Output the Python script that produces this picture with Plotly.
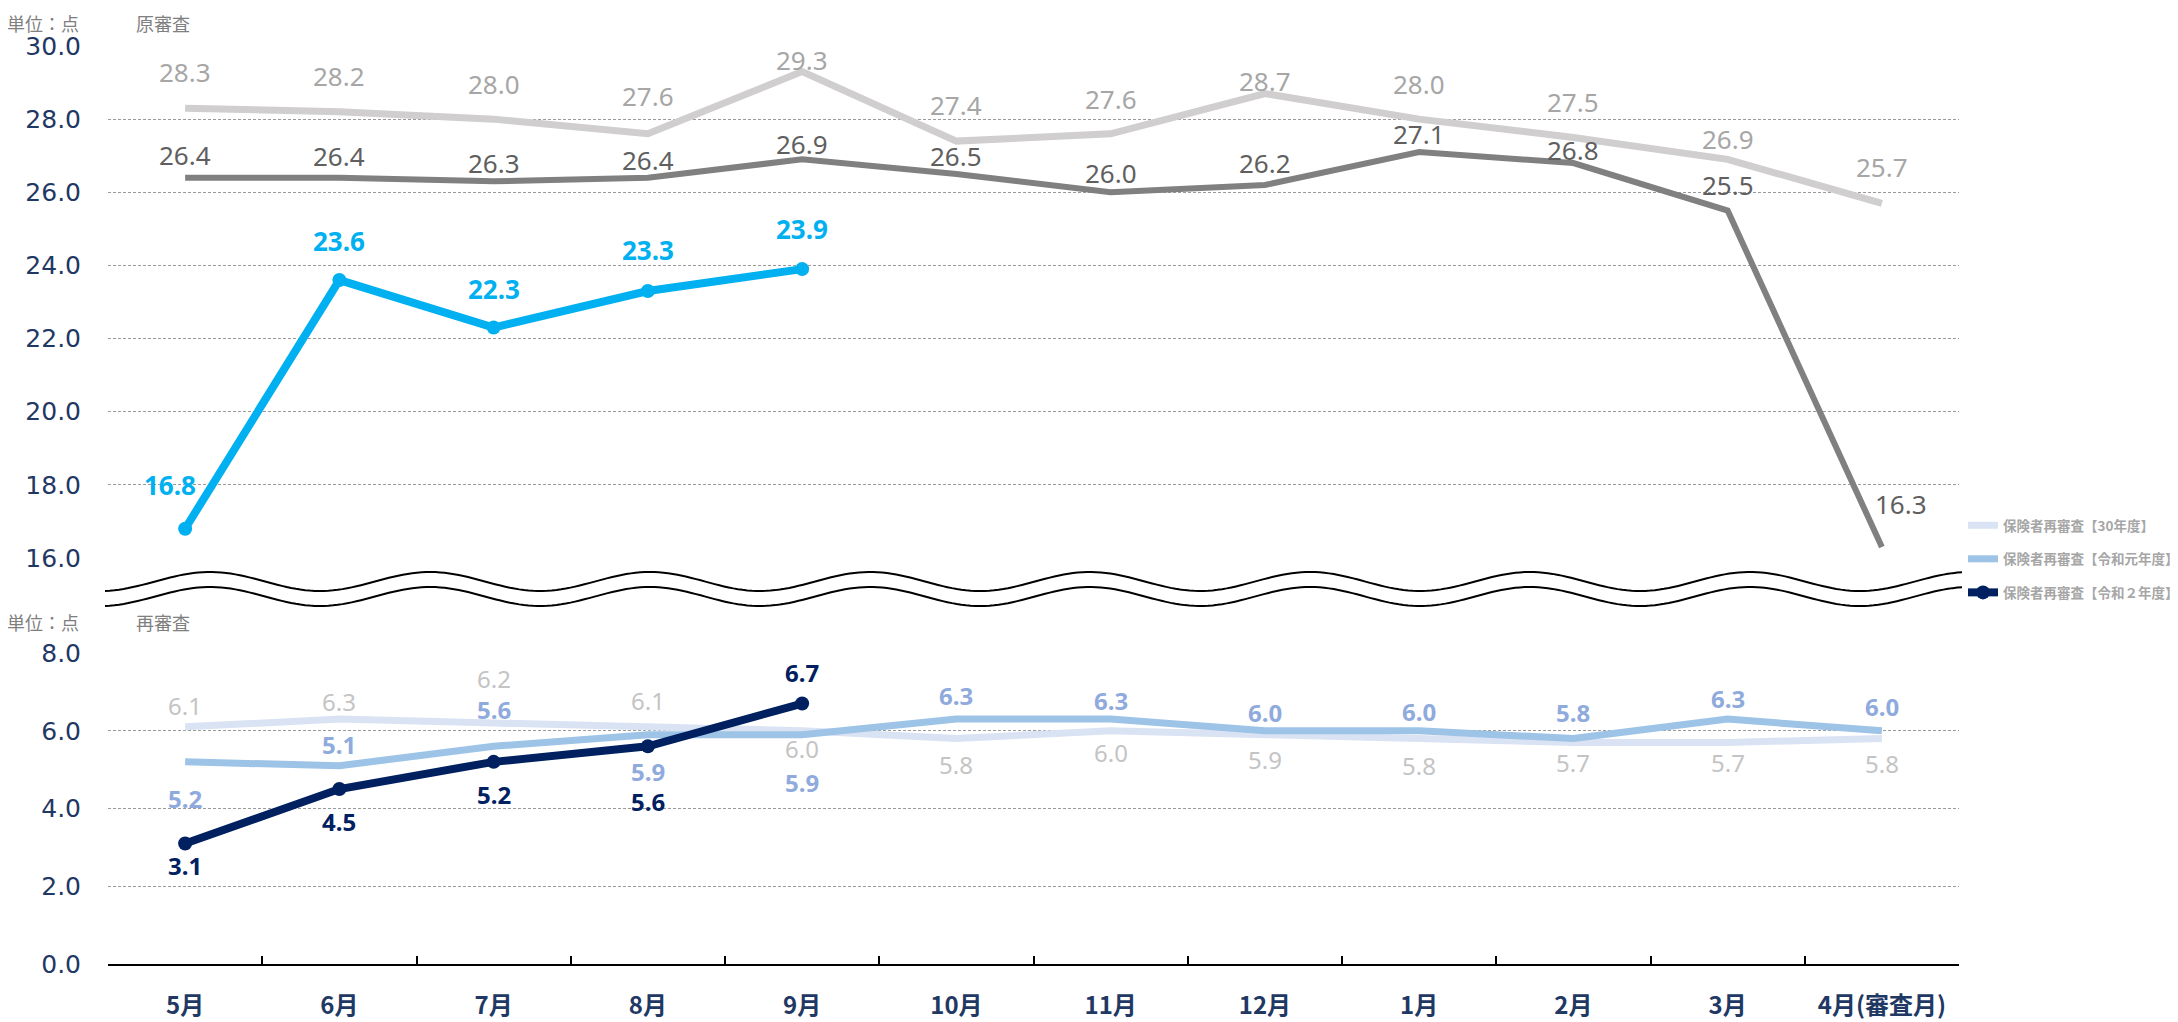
import numpy as np
import plotly.graph_objects as go

# categories (審査月)
months = ["5月", "6月", "7月", "8月", "9月", "10月", "11月", "12月", "1月", "2月", "3月", "4月(審査月)"]

# 原審査 (top panel)
orig_h30 = [28.3, 28.2, 28.0, 27.6, 29.3, 27.4, 27.6, 28.7, 28.0, 27.5, 26.9, 25.7]
orig_r1 = [26.4, 26.4, 26.3, 26.4, 26.9, 26.5, 26.0, 26.2, 27.1, 26.8, 25.5, 16.3]
orig_r2 = [16.8, 23.6, 22.3, 23.3, 23.9]

# 再審査 (bottom panel)
re_h30 = [6.1, 6.3, 6.2, 6.1, 6.0, 5.8, 6.0, 5.9, 5.8, 5.7, 5.7, 5.8]
re_r1 = [5.2, 5.1, 5.6, 5.9, 5.9, 6.3, 6.3, 6.0, 6.0, 5.8, 6.3, 6.0]
re_r2 = [3.1, 4.5, 5.2, 5.6, 6.7]

legend_names = ["保険者再審査【30年度】", "保険者再審査【令和元年度】", "保険者再審査【令和２年度】"]

# label offsets in px (up = positive), kept apart from the data
shift_orig_h30 = [36, 36, 35, 38, 12, 36, 35, 13, 35, 35, 20, 36]
shift_orig_r1 = [23, 22, 18, 18, 15, 18, 19, 22, 18, 13, 26, 43]
shift_orig_r2 = [44, 39, 39, 41, 40]
shift_re_h30 = [21, 18, 44, 26, -18, -26, -22, -25, -27, -20, -20, -25]
shift_re_r1 = [-37, 21, 37, -37, -48, 24, 19, 18, 19, 26, 21, 24]
shift_re_r2 = [-22, -32, -33, -55, 31]

NAVY = "#1f3864"
OFF = 8  # page body margin
FIG_W, FIG_H = 2170, 1014
ML, MR, MT, MB = 100, 219, 38, 58
PW, PH = FIG_W - ML - MR, FIG_H - MT - MB
PLOT_L = OFF + ML
PLOT_B = OFF + FIG_H - MB


def paper_x(page_x):
    return (page_x - PLOT_L) / PW


def paper_y(page_y):
    return (PLOT_B - page_y) / PH


fig = go.Figure()

# top panel traces (xaxis2 / yaxis2)
fig.add_trace(go.Scatter(x=months, y=orig_h30, mode="lines", line=dict(color="#d0cece", width=7),
                         xaxis="x2", yaxis="y2", showlegend=False))
fig.add_trace(go.Scatter(x=months, y=orig_r1, mode="lines", line=dict(color="#808080", width=6),
                         xaxis="x2", yaxis="y2", showlegend=False))
fig.add_trace(go.Scatter(x=months[:len(orig_r2)], y=orig_r2, mode="lines+markers",
                         line=dict(color="#00b0f0", width=8), marker=dict(size=14, color="#00b0f0"),
                         xaxis="x2", yaxis="y2", showlegend=False))

# bottom panel traces
fig.add_trace(go.Scatter(x=months, y=re_h30, mode="lines", line=dict(color="#dae3f3", width=7),
                         name=legend_names[0], legendgroup="a"))
fig.add_trace(go.Scatter(x=months, y=re_r1, mode="lines", line=dict(color="#9dc3e6", width=7),
                         name=legend_names[1], legendgroup="b"))
fig.add_trace(go.Scatter(x=months[:len(re_r2)], y=re_r2, mode="lines+markers",
                         line=dict(color="#002060", width=8), marker=dict(size=14, color="#002060"),
                         name=legend_names[2], legendgroup="c"))


def add_labels(values, shifts, color, bold, xref, yref, size, xshifts=None):
    for i, (v, s) in enumerate(zip(values, shifts)):
        txt = f"{v:.1f}"
        if bold:
            txt = f"<b>{txt}</b>"
        fig.add_annotation(x=months[i], y=v, xref=xref, yref=yref, text=txt, showarrow=False,
                           yshift=s, xshift=(xshifts[i] if xshifts else 0), yanchor="middle",
                           font=dict(family="Noto Sans", size=size, color=color))


add_labels(orig_h30, shift_orig_h30, "#a6a6a6", False, "x2", "y2", 26)
add_labels(orig_r1, shift_orig_r1, "#5f5f5f", False, "x2", "y2", 26,
           xshifts=[0] * (len(orig_r1) - 1) + [19])
add_labels(orig_r2, shift_orig_r2, "#00b0f0", True, "x2", "y2", 26,
           xshifts=[-15] + [0] * (len(orig_r2) - 1))
add_labels(re_h30, shift_re_h30, "#c4c4c4", False, "x", "y", 24)
add_labels(re_r1, shift_re_r1, "#8faadc", True, "x", "y", 24)
add_labels(re_r2, shift_re_r2, "#002060", True, "x", "y", 24)

# panel captions
for ypx, sub in [(23, "原審査"), (622, "再審査")]:
    fig.add_annotation(x=paper_x(5), y=paper_y(ypx), xref="paper", yref="paper", text="単位：点",
                       showarrow=False, xanchor="left", yanchor="middle",
                       font=dict(family="Noto Sans CJK JP", size=18, color="#7f7f7f"))
    fig.add_annotation(x=paper_x(134), y=paper_y(ypx), xref="paper", yref="paper", text=sub,
                       showarrow=False, xanchor="left", yanchor="middle",
                       font=dict(family="Noto Sans CJK JP", size=18, color="#7f7f7f"))

# wavy axis-break lines
xs = np.linspace(105, 1962, 400)
for off in (0, 15):
    ys = 581.5 + off + 9.5 * np.cos(2 * np.pi * (xs - 100) / 220)
    path = "M" + "L".join(f"{paper_x(a):.5f},{paper_y(b):.5f}" for a, b in zip(xs, ys))
    fig.add_shape(type="path", path=path, xref="paper", yref="paper",
                  line=dict(color="black", width=2))

grid = dict(showgrid=True, gridcolor="#9a9a9a", gridwidth=1, griddash="3px,2px", zeroline=False,
            tickformat=".1f", ticklabelstandoff=26, automargin=False,
            tickfont=dict(family="DejaVu Sans", size=25, color=NAVY))

fig.update_layout(
    width=FIG_W, height=FIG_H,
    margin=dict(l=ML, r=MR, t=MT, b=MB, autoexpand=False),
    plot_bgcolor="white", paper_bgcolor="white",
    xaxis=dict(type="category", categoryorder="array", categoryarray=months, range=[-0.5, 11.5],
               showline=True, linecolor="black", linewidth=2, ticks="inside", ticklen=8,
               tickcolor="black", tickwidth=1.5, tickson="boundaries", showgrid=False,
               ticklabelstandoff=19, automargin=False,
               tickfont=dict(family="Noto Sans CJK JP", size=24, color=NAVY, weight="bold")),
    yaxis=dict(domain=[0, paper_y(653)], range=[0, 8], dtick=2, **grid),
    xaxis2=dict(type="category", categoryorder="array", categoryarray=months, range=[-0.5, 11.5],
                anchor="y2", matches="x", showticklabels=False, showline=False, showgrid=False,
                ticks="", automargin=False),
    yaxis2=dict(domain=[paper_y(558), 1], range=[16, 30], dtick=2, anchor="x2", **grid),
    legend=dict(x=paper_x(1963), y=paper_y(510), xanchor="left", yanchor="top",
                traceorder="grouped", tracegroupgap=13, itemwidth=30,
                font=dict(family="Noto Sans CJK JP", size=13.5, color="#a6a6a6", weight="bold"),
                bgcolor="rgba(0,0,0,0)"),
)

fig.write_html("out.html")
